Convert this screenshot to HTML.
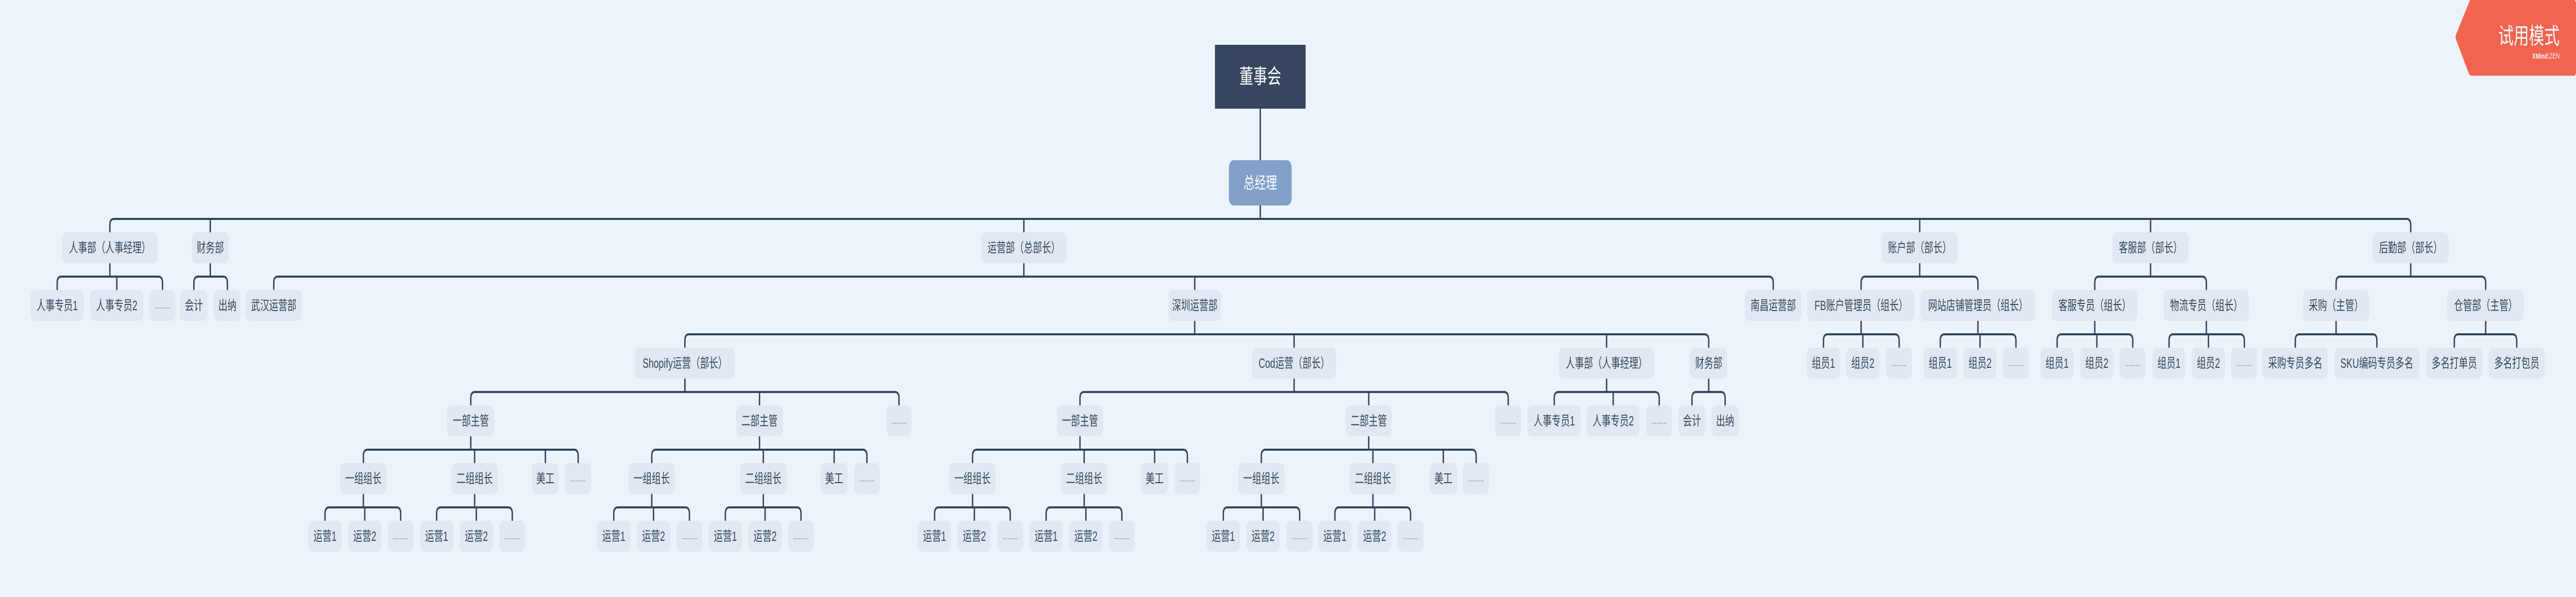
<!DOCTYPE html>
<html><head><meta charset="utf-8"><style>
html,body{margin:0;padding:0;width:100%;height:100%;overflow:hidden;background:#edf3fa;}
svg#m{position:fixed;left:0;top:0;width:100vw;height:100vh;display:block;}
text{font-family:"Liberation Sans","Noto Sans CJK SC",sans-serif;font-size:26px;fill:#34455c;text-anchor:middle;dominant-baseline:central;}
text.d{font-size:15px;}
rect.n{fill:#e1e8f1;}
</style></head><body>
<svg id="m" viewBox="0 0 7387 1159" preserveAspectRatio="none" xmlns="http://www.w3.org/2000/svg">
<rect x="0" y="0" width="7387" height="1159" fill="#edf3fa"/>
<g fill="none" stroke="#34465e" stroke-width="4">
<path d="M3614 211V311 M3614 399V425 M315 451V437Q315 425 327 425H6901Q6913 425 6913 437V451 M603 425V451 M2936 425V451 M5505 425V451 M6167 425V451"/>
<path d="M315 511V537 M164 563V549Q164 537 176 537H454Q466 537 466 549V563 M335 537V563
M603 511V537 M556 563V549Q556 537 568 537H640Q652 537 652 549V563
M2936 511V537 M785 563V549Q785 537 797 537H5073Q5085 537 5085 549V563 M3426 537V563
M5505 511V537 M5337 563V549Q5337 537 5349 537H5660Q5672 537 5672 549V563
M6167 511V537 M6007 563V549Q6007 537 6019 537H6315Q6327 537 6327 549V563
M6913 511V537 M6699 563V549Q6699 537 6711 537H7116Q7128 537 7128 549V563"/>
<path d="M3426 623V649 M1964 675V661Q1964 649 1976 649H4888Q4900 649 4900 661V675 M3711 649V675 M4607 649V675
M5337 623V649 M5229 675V661Q5229 649 5241 649H5434Q5446 649 5446 661V675 M5342 649V675
M5672 623V649 M5564 675V661Q5564 649 5576 649H5769Q5781 649 5781 661V675 M5678 649V675
M6007 623V649 M5899 675V661Q5899 649 5911 649H6104Q6116 649 6116 661V675 M6013 649V675
M6327 623V649 M6220 675V661Q6220 649 6232 649H6424Q6436 649 6436 661V675 M6333 649V675
M6699 623V649 M6582 675V661Q6582 649 6594 649H6804Q6816 649 6816 661V675
M7128 623V649 M7038 675V661Q7038 649 7050 649H7205Q7217 649 7217 661V675"/>
<path d="M1964 735V761 M1350 787V773Q1350 761 1362 761H2566Q2578 761 2578 773V787 M2178 761V787
M3711 735V761 M3097 787V773Q3097 761 3109 761H4313Q4325 761 4325 773V787 M3925 761V787
M4607 735V761 M4457 787V773Q4457 761 4469 761H4746Q4758 761 4758 773V787 M4626 761V787
M4900 735V761 M4852 787V773Q4852 761 4864 761H4935Q4947 761 4947 773V787"/>
<path d="M1350 847V873 M1042 899V885Q1042 873 1054 873H1646Q1658 873 1658 885V899 M1361 873V899 M1564 873V899
M2178 847V873 M1869 899V885Q1869 873 1881 873H2474Q2486 873 2486 885V899 M2189 873V899 M2392 873V899
M3097 847V873 M2789 899V885Q2789 873 2801 873H3393Q3405 873 3405 885V899 M3109 873V899 M3311 873V899
M3925 847V873 M3617 899V885Q3617 873 3629 873H4221Q4233 873 4233 885V899 M3937 873V899 M4139 873V899"/>
<path d="M1042 959V985 M932 1011V997Q932 985 944 985H1137Q1149 985 1149 997V1011 M1046 985V1011
M1361 959V985 M1252 1011V997Q1252 985 1264 985H1457Q1469 985 1469 997V1011 M1366 985V1011
M1869 959V985 M1760 1011V997Q1760 985 1772 985H1965Q1977 985 1977 997V1011 M1874 985V1011
M2189 959V985 M2080 1011V997Q2080 985 2092 985H2285Q2297 985 2297 997V1011 M2194 985V1011
M2789 959V985 M2680 1011V997Q2680 985 2692 985H2885Q2897 985 2897 997V1011 M2794 985V1011
M3109 959V985 M3000 1011V997Q3000 985 3012 985H3205Q3217 985 3217 997V1011 M3114 985V1011
M3617 959V985 M3508 1011V997Q3508 985 3520 985H3715Q3727 985 3727 997V1011 M3622 985V1011
M3937 959V985 M3828 1011V997Q3828 985 3840 985H4033Q4045 985 4045 997V1011 M3942 985V1011"/>
</g>

<rect x="3484" y="87" width="260" height="124" fill="#35465e"/>
<text x="3614" y="149" style="font-size:40px;fill:#fff">董事会</text>
<rect x="3524" y="311" width="180" height="88" rx="14" fill="#82a1c8"/>
<text x="3614" y="355" style="font-size:32px;fill:#fff">总经理</text>

<!-- L1 y451 -->
<g>
<rect class="n" x="178" y="451" width="274" height="60" rx="13"/><text x="315" y="481">人事部（人事经理）</text>
<rect class="n" x="550" y="451" width="106" height="60" rx="13"/><text x="603" y="481">财务部</text>
<rect class="n" x="2814" y="451" width="244" height="60" rx="13"/><text x="2936" y="481">运营部（总部长）</text>
<rect class="n" x="5396" y="451" width="217" height="60" rx="13"/><text x="5505" y="481">账户部（部长）</text>
<rect class="n" x="6058" y="451" width="218" height="60" rx="13"/><text x="6167" y="481">客服部（部长）</text>
<rect class="n" x="6804" y="451" width="218" height="60" rx="13"/><text x="6913" y="481">后勤部（部长）</text>
</g>
<!-- L2 y563 -->
<g>
<rect class="n" x="88" y="563" width="152" height="60" rx="13"/><text x="164" y="593">人事专员1</text>
<rect class="n" x="258" y="563" width="153" height="60" rx="13"/><text x="335" y="593">人事专员2</text>
<rect class="n" x="428" y="563" width="75" height="60" rx="13"/><text class="d" x="466" y="593">………</text>
<rect class="n" x="516" y="563" width="79" height="60" rx="13"/><text x="556" y="593">会计</text>
<rect class="n" x="613" y="563" width="77" height="60" rx="13"/><text x="652" y="593">出纳</text>
<rect class="n" x="704" y="563" width="162" height="60" rx="13"/><text x="785" y="593">武汉运营部</text>
<rect class="n" x="3350" y="563" width="152" height="60" rx="13"/><text x="3426" y="593">深圳运营部</text>
<rect class="n" x="5004" y="563" width="162" height="60" rx="13"/><text x="5085" y="593">南昌运营部</text>
<rect class="n" x="5183" y="563" width="307" height="60" rx="13"/><text x="5337" y="593">FB账户管理员（组长）</text>
<rect class="n" x="5507" y="563" width="329" height="60" rx="13"/><text x="5672" y="593">网站店铺管理员（组长）</text>
<rect class="n" x="5884" y="563" width="246" height="60" rx="13"/><text x="6007" y="593">客服专员（组长）</text>
<rect class="n" x="6204" y="563" width="245" height="60" rx="13"/><text x="6327" y="593">物流专员（组长）</text>
<rect class="n" x="6604" y="563" width="190" height="60" rx="13"/><text x="6699" y="593">采购（主管）</text>
<rect class="n" x="7018" y="563" width="219" height="60" rx="13"/><text x="7128" y="593">仓管部（主管）</text>
</g>
<!-- L3 y675 -->
<g>
<rect class="n" x="1820" y="675" width="287" height="60" rx="13"/><text x="1964" y="705">Shopify运营（部长）</text>
<rect class="n" x="3590" y="675" width="242" height="60" rx="13"/><text x="3711" y="705">Cod运营（部长）</text>
<rect class="n" x="4470" y="675" width="274" height="60" rx="13"/><text x="4607" y="705">人事部（人事经理）</text>
<rect class="n" x="4846" y="675" width="107" height="60" rx="13"/><text x="4900" y="705">财务部</text>
<rect class="n" x="5181" y="675" width="96" height="60" rx="13"/><text x="5229" y="705">组员1</text>
<rect class="n" x="5294" y="675" width="96" height="60" rx="13"/><text x="5342" y="705">组员2</text>
<rect class="n" x="5408" y="675" width="75" height="60" rx="13"/><text class="d" x="5446" y="705">………</text>
<rect class="n" x="5516" y="675" width="96" height="60" rx="13"/><text x="5564" y="705">组员1</text>
<rect class="n" x="5630" y="675" width="95" height="60" rx="13"/><text x="5678" y="705">组员2</text>
<rect class="n" x="5743" y="675" width="75" height="60" rx="13"/><text class="d" x="5781" y="705">………</text>
<rect class="n" x="5851" y="675" width="96" height="60" rx="13"/><text x="5899" y="705">组员1</text>
<rect class="n" x="5965" y="675" width="96" height="60" rx="13"/><text x="6013" y="705">组员2</text>
<rect class="n" x="6078" y="675" width="75" height="60" rx="13"/><text class="d" x="6116" y="705">………</text>
<rect class="n" x="6172" y="675" width="95" height="60" rx="13"/><text x="6220" y="705">组员1</text>
<rect class="n" x="6285" y="675" width="96" height="60" rx="13"/><text x="6333" y="705">组员2</text>
<rect class="n" x="6398" y="675" width="75" height="60" rx="13"/><text class="d" x="6436" y="705">………</text>
<rect class="n" x="6487" y="675" width="189" height="60" rx="13"/><text x="6582" y="705">采购专员多名</text>
<rect class="n" x="6694" y="675" width="244" height="60" rx="13"/><text x="6816" y="705">SKU编码专员多名</text>
<rect class="n" x="6957" y="675" width="161" height="60" rx="13"/><text x="7038" y="705">多名打单员</text>
<rect class="n" x="7136" y="675" width="161" height="60" rx="13"/><text x="7217" y="705">多名打包员</text>
</g>
<!-- L4 y787 -->
<g>
<rect class="n" x="1282" y="787" width="135" height="60" rx="13"/><text x="1350" y="817">一部主管</text>
<rect class="n" x="2111" y="787" width="134" height="60" rx="13"/><text x="2178" y="817">二部主管</text>
<rect class="n" x="2542" y="787" width="72" height="60" rx="13"/><text class="d" x="2578" y="817">………</text>
<rect class="n" x="3031" y="787" width="132" height="60" rx="13"/><text x="3097" y="817">一部主管</text>
<rect class="n" x="3859" y="787" width="132" height="60" rx="13"/><text x="3925" y="817">二部主管</text>
<rect class="n" x="4287" y="787" width="75" height="60" rx="13"/><text class="d" x="4325" y="817">………</text>
<rect class="n" x="4380" y="787" width="153" height="60" rx="13"/><text x="4457" y="817">人事专员1</text>
<rect class="n" x="4550" y="787" width="152" height="60" rx="13"/><text x="4626" y="817">人事专员2</text>
<rect class="n" x="4720" y="787" width="75" height="60" rx="13"/><text class="d" x="4758" y="817">………</text>
<rect class="n" x="4813" y="787" width="78" height="60" rx="13"/><text x="4852" y="817">会计</text>
<rect class="n" x="4908" y="787" width="78" height="60" rx="13"/><text x="4947" y="817">出纳</text>
</g>
<!-- L5 y899 -->
<g>
<rect class="n" x="975" y="899" width="133" height="60" rx="13"/><text x="1042" y="929">一组组长</text>
<rect class="n" x="1294" y="899" width="134" height="60" rx="13"/><text x="1361" y="929">二组组长</text>
<rect class="n" x="1525" y="899" width="77" height="60" rx="13"/><text x="1564" y="929">美工</text>
<rect class="n" x="1620" y="899" width="75" height="60" rx="13"/><text class="d" x="1658" y="929">………</text>
<rect class="n" x="1802" y="899" width="133" height="60" rx="13"/><text x="1869" y="929">一组组长</text>
<rect class="n" x="2122" y="899" width="134" height="60" rx="13"/><text x="2189" y="929">二组组长</text>
<rect class="n" x="2353" y="899" width="78" height="60" rx="13"/><text x="2392" y="929">美工</text>
<rect class="n" x="2449" y="899" width="74" height="60" rx="13"/><text class="d" x="2486" y="929">………</text>
<rect class="n" x="2722" y="899" width="133" height="60" rx="13"/><text x="2789" y="929">一组组长</text>
<rect class="n" x="3042" y="899" width="133" height="60" rx="13"/><text x="3109" y="929">二组组长</text>
<rect class="n" x="3272" y="899" width="78" height="60" rx="13"/><text x="3311" y="929">美工</text>
<rect class="n" x="3368" y="899" width="74" height="60" rx="13"/><text class="d" x="3405" y="929">………</text>
<rect class="n" x="3550" y="899" width="134" height="60" rx="13"/><text x="3617" y="929">一组组长</text>
<rect class="n" x="3870" y="899" width="133" height="60" rx="13"/><text x="3937" y="929">二组组长</text>
<rect class="n" x="4100" y="899" width="78" height="60" rx="13"/><text x="4139" y="929">美工</text>
<rect class="n" x="4195" y="899" width="75" height="60" rx="13"/><text class="d" x="4233" y="929">………</text>
</g>
<!-- L6 y1011 -->
<g>
<rect class="n" x="884" y="1011" width="96" height="60" rx="13"/><text x="932" y="1041">运营1</text>
<rect class="n" x="998" y="1011" width="96" height="60" rx="13"/><text x="1046" y="1041">运营2</text>
<rect class="n" x="1112" y="1011" width="74" height="60" rx="13"/><text class="d" x="1149" y="1041">………</text>
<rect class="n" x="1204" y="1011" width="96" height="60" rx="13"/><text x="1252" y="1041">运营1</text>
<rect class="n" x="1318" y="1011" width="96" height="60" rx="13"/><text x="1366" y="1041">运营2</text>
<rect class="n" x="1432" y="1011" width="74" height="60" rx="13"/><text class="d" x="1469" y="1041">………</text>
<rect class="n" x="1712" y="1011" width="96" height="60" rx="13"/><text x="1760" y="1041">运营1</text>
<rect class="n" x="1826" y="1011" width="96" height="60" rx="13"/><text x="1874" y="1041">运营2</text>
<rect class="n" x="1940" y="1011" width="74" height="60" rx="13"/><text class="d" x="1977" y="1041">………</text>
<rect class="n" x="2032" y="1011" width="96" height="60" rx="13"/><text x="2080" y="1041">运营1</text>
<rect class="n" x="2146" y="1011" width="96" height="60" rx="13"/><text x="2194" y="1041">运营2</text>
<rect class="n" x="2260" y="1011" width="74" height="60" rx="13"/><text class="d" x="2297" y="1041">………</text>
<rect class="n" x="2632" y="1011" width="95" height="60" rx="13"/><text x="2680" y="1041">运营1</text>
<rect class="n" x="2746" y="1011" width="96" height="60" rx="13"/><text x="2794" y="1041">运营2</text>
<rect class="n" x="2860" y="1011" width="74" height="60" rx="13"/><text class="d" x="2897" y="1041">………</text>
<rect class="n" x="2952" y="1011" width="96" height="60" rx="13"/><text x="3000" y="1041">运营1</text>
<rect class="n" x="3066" y="1011" width="96" height="60" rx="13"/><text x="3114" y="1041">运营2</text>
<rect class="n" x="3180" y="1011" width="74" height="60" rx="13"/><text class="d" x="3217" y="1041">………</text>
<rect class="n" x="3460" y="1011" width="96" height="60" rx="13"/><text x="3508" y="1041">运营1</text>
<rect class="n" x="3574" y="1011" width="96" height="60" rx="13"/><text x="3622" y="1041">运营2</text>
<rect class="n" x="3689" y="1011" width="75" height="60" rx="13"/><text class="d" x="3727" y="1041">………</text>
<rect class="n" x="3780" y="1011" width="96" height="60" rx="13"/><text x="3828" y="1041">运营1</text>
<rect class="n" x="3894" y="1011" width="96" height="60" rx="13"/><text x="3942" y="1041">运营2</text>
<rect class="n" x="4008" y="1011" width="74" height="60" rx="13"/><text class="d" x="4045" y="1041">………</text>
</g>

<path d="M7083 0H7380Q7387 0 7387 7V140Q7387 147 7380 147H7088Q7083 147 7080 143L7043 77Q7040 72 7043 67L7083 0Z" fill="#f06450"/>
<text x="7340" y="70" style="font-size:44px;fill:#f3f6fa;text-anchor:end">试用模式</text>
<text x="7340" y="108" style="font-size:15px;fill:#f3f6fa;text-anchor:end"><tspan font-weight="bold">XMind</tspan>:ZEN</text>
</svg>
</body></html>
